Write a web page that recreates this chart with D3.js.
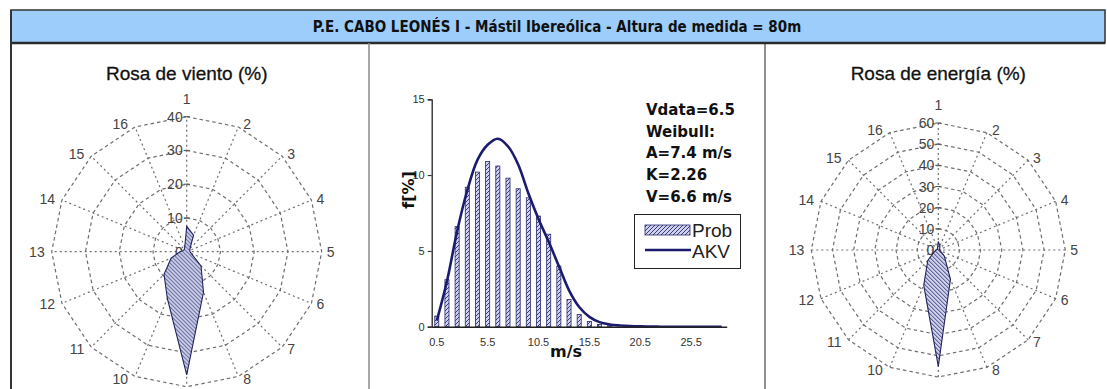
<!DOCTYPE html>
<html><head><meta charset="utf-8">
<script src="https://cdn.jsdelivr.net/npm/d3@7"></script>
<style>
html,body{margin:0;padding:0;background:#fff;}
svg{display:block;}
</style></head><body>
<svg id="chart" width="1107" height="389"></svg>
<script>
// ---- data ----
const reportTitle = "P.E. CABO LEONÉS I - Mástil Ibereólica - Altura de medida = 80m";
const sectorLabels = ["1","2","3","4","5","6","7","8","9","10","11","12","13","14","15","16"];
const windRosePct   = [7.5, 5.3, 1.4, 1.0, 1.0, 1.5, 6.0, 13.0, 36.5, 15.0, 9.5, 5.0, 2.0, 1.0, 1.0, 1.5];
const windRoseTicks = [0, 10, 20, 30, 40];
const energyRosePct   = [4.0, 2.0, 1.0, 0.5, 0.5, 1.0, 4.0, 15.0, 55.0, 18.0, 7.0, 2.0, 1.0, 0.5, 0.5, 1.0];
const energyRoseTicks = [0, 10, 20, 30, 40, 50, 60];
const speedBins = ["0.5","1.5","2.5","3.5","4.5","5.5","6.5","7.5","8.5","9.5",
                   "10.5","11.5","12.5","13.5","14.5","15.5","16.5","17.5","18.5","19.5",
                   "20.5","21.5","22.5","23.5","24.5","25.5","26.5","27.5","28.5"];
const speedTickLabels = ["0.5","5.5","10.5","15.5","20.5","25.5"];
const probPct = [0.7, 3.1, 6.6, 9.2, 10.2, 10.9, 10.6, 9.8, 9.1, 8.5,
                 7.3, 6.1, 4.0, 1.8, 0.8, 0.35, 0.15, 0.1, 0, 0,
                 0, 0, 0, 0, 0, 0, 0, 0, 0];
const akvPct = [0.4, 3.0, 6.3, 9.0, 11.0, 12.0, 12.4, 11.9, 10.7, 8.8,
                7.1, 5.6, 4.0, 2.4, 1.3, 0.65, 0.3, 0.15, 0.08, 0.04,
                0.02, 0.01, 0, 0, 0, 0, 0, 0, 0];
const freqTicks = [0, 5, 10, 15];
const weibullNotes = ["Vdata=6.5", "Weibull:", "A=7.4 m/s", "K=2.26", "V=6.6 m/s"];
const legendItems = ["Prob", "AKV"];

// ---- drawing ----
const W = 1107, H = 389;
const svg = d3.select("#chart");
const ARIAL = "'Liberation Sans', Arial, sans-serif";
const WIDE = "'DejaVu Sans', Verdana, sans-serif";

const defs = svg.append("defs");
function hatch(id, forward, fill) {
  const p = defs.append("pattern").attr("id", id)
    .attr("patternUnits", "userSpaceOnUse").attr("width", 4).attr("height", 4);
  p.append("rect").attr("width", 4).attr("height", 4).attr("fill", fill);
  const d = forward ? "M-1,1 L1,-1 M0,4 L4,0 M3,5 L5,3" : "M-1,3 L1,5 M0,0 L4,4 M3,-1 L5,1";
  p.append("path").attr("d", d).attr("stroke", "#2a2a6a").attr("stroke-width", 0.9);
}
hatch("hatchRose", false, "#cdd0ea");
hatch("hatchBar", true, "#cfd2ee");

// frame + header band
svg.append("rect").attr("x", 11).attr("y", 10).attr("width", 1094).attr("height", 33)
  .attr("fill", "#9ccdfb").attr("stroke", "#333").attr("stroke-width", 1.5);
svg.append("line").attr("x1", 11).attr("x2", 1105).attr("y1", 43).attr("y2", 43)
  .attr("stroke", "#2b2b2b").attr("stroke-width", 2.5);
svg.append("text").attr("x", 557).attr("y", 27).attr("text-anchor", "middle")
  .attr("dominant-baseline", "central")
  .attr("font-family", "'DejaVu Sans Condensed', 'DejaVu Sans', sans-serif")
  .attr("font-stretch", "condensed").attr("font-weight", "bold").attr("font-size", 15)
  .attr("fill", "#111").text(reportTitle);
svg.append("line").attr("x1", 11).attr("x2", 11).attr("y1", 10).attr("y2", H)
  .attr("stroke", "#333").attr("stroke-width", 2);
svg.append("line").attr("x1", 369).attr("x2", 369).attr("y1", 43).attr("y2", H)
  .attr("stroke", "#8a8a8a").attr("stroke-width", 1.5);
svg.append("line").attr("x1", 765).attr("x2", 765).attr("y1", 43).attr("y2", H)
  .attr("stroke", "#222").attr("stroke-width", 1);

// ---- radar roses ----
function drawRose(cx, cy, R, ticks, values, title) {
  const g = svg.append("g").attr("transform", `translate(${cx},${cy})`);
  const n = sectorLabels.length;
  const step = 2 * Math.PI / n;
  const r = d3.scaleLinear().domain([0, d3.max(ticks)]).range([0, R]);
  const ring = d3.lineRadial().angle((d, i) => i * step).radius(d => r(d)).curve(d3.curveLinearClosed);

  // concentric polygon grid
  g.selectAll(".ring").data(ticks.filter(t => t > 0)).join("path")
    .attr("d", t => ring(sectorLabels.map(() => t)))
    .attr("fill", "none").attr("stroke", "#6e6e6e").attr("stroke-width", 1.2)
    .attr("stroke-dasharray", "3.5,3");
  // spokes
  g.selectAll(".spoke").data(sectorLabels).join("line")
    .attr("x1", 0).attr("y1", 0)
    .attr("x2", (d, i) => R * Math.sin(i * step))
    .attr("y2", (d, i) => -R * Math.cos(i * step))
    .attr("stroke", "#6e6e6e").attr("stroke-width", 1.2).attr("stroke-dasharray", "2,3");
  // value axis ticks and labels on the north spoke
  g.selectAll(".tk").data(ticks).join("line")
    .attr("x1", -3).attr("x2", 3).attr("y1", t => -r(t)).attr("y2", t => -r(t))
    .attr("stroke", "#555").attr("stroke-width", 1);
  g.selectAll(".tl").data(ticks).join("text")
    .attr("x", -4).attr("y", t => -r(t)).attr("text-anchor", "end")
    .attr("dominant-baseline", "central").attr("font-family", ARIAL).attr("font-size", 14)
    .attr("fill", "#444").text(t => t);
  // sector labels sit beside the outer vertex of each spoke; the south one falls below the panel
  const placed = sectorLabels.map((d, i) => {
    const s = Math.sin(i * step), c = Math.cos(i * step);
    const vx = R * s, vy = -R * c;
    if (s > 0.1) return { d, anchor: "start", x: vx + 5, y: vy - 3 * c };
    if (s < -0.1) return { d, anchor: "end", x: vx - 7, y: vy - 3 * c };
    return { d, anchor: "middle", x: vx, y: c > 0 ? vy - 18 : vy + 16 };
  }).filter(p => cy + p.y + 7 <= H);
  g.selectAll(".sl").data(placed).join("text")
    .attr("x", p => p.x).attr("y", p => p.y).attr("text-anchor", p => p.anchor)
    .attr("dominant-baseline", "central")
    .attr("font-family", ARIAL).attr("font-size", 14).attr("fill", "#444").text(p => p.d);
  // data polygon
  g.append("path").attr("d", ring(values))
    .attr("fill", "url(#hatchRose)").attr("stroke", "#23235e").attr("stroke-width", 1.1);
  // title
  svg.append("text").attr("x", cx).attr("y", 80).attr("text-anchor", "middle")
    .attr("font-family", ARIAL).attr("font-size", 19).attr("fill", "#111")
    .attr("stroke", "#111").attr("stroke-width", 0.3).text(title);
}
drawRose(186.7, 251.7, 135, windRoseTicks, windRosePct, "Rosa de viento (%)");
drawRose(938.3, 250, 127, energyRoseTicks, energyRosePct, "Rosa de energía (%)");

// ---- frequency histogram ----
const x = d3.scaleBand().domain(speedBins).range([431.7, 726.7]).paddingInner(0.6).paddingOuter(0.3);
const y = d3.scaleLinear().domain([0, 15]).range([326.7, 99.3]);
const cxOf = b => x(b) + x.bandwidth() / 2;
const hg = svg.append("g");

hg.selectAll(".bar").data(probPct).join("rect")
  .attr("x", (d, i) => x(speedBins[i])).attr("width", x.bandwidth())
  .attr("y", d => y(d)).attr("height", d => y(0) - y(d))
  .attr("fill", "url(#hatchBar)").attr("stroke", "#2a2a6a").attr("stroke-width", 0.8);

const akvLine = d3.line().x((d, i) => cxOf(speedBins[i])).y(d => y(d)).curve(d3.curveCatmullRom.alpha(0.5));
hg.append("path").attr("d", akvLine(akvPct)).attr("fill", "none")
  .attr("stroke", "#1c1c6e").attr("stroke-width", 2.6);

const yAxis = hg.append("g").attr("transform", "translate(431.7,0)")
  .call(d3.axisLeft(y).tickValues(freqTicks).tickSize(4).tickPadding(3));
yAxis.select(".domain").attr("stroke", "#222").attr("stroke-width", 1.3);
yAxis.selectAll("line").attr("stroke", "#222");
yAxis.selectAll("text").attr("font-family", ARIAL).attr("font-size", 11).attr("fill", "#333");

const xAxis = hg.append("g").attr("transform", "translate(0,326.7)")
  .call(d3.axisBottom(x).tickValues(speedTickLabels).tickSize(0).tickPadding(12).tickSizeOuter(0));
xAxis.select(".domain").attr("stroke", "#222").attr("stroke-width", 1.5);
xAxis.selectAll("text").attr("font-family", ARIAL).attr("font-size", 11).attr("fill", "#333");

hg.append("text").attr("x", 566).attr("y", 357).attr("text-anchor", "middle")
  .attr("font-family", WIDE).attr("font-weight", "bold").attr("font-size", 16).attr("fill", "#111")
  .text("m/s");
hg.append("text").attr("transform", "translate(414,190) rotate(-90)").attr("text-anchor", "middle")
  .attr("font-family", WIDE).attr("font-weight", "bold").attr("font-size", 16).attr("fill", "#111")
  .text("f[%]");

// Weibull summary
hg.selectAll(".note").data(weibullNotes).join("text")
  .attr("x", 646).attr("y", (d, i) => 110 + i * 21.7)
  .attr("dominant-baseline", "central")
  .attr("font-family", WIDE).attr("font-weight", "bold").attr("font-size", 15).attr("fill", "#111")
  .text(d => d);

// legend
const lg = hg.append("g");
lg.append("rect").attr("x", 634.5).attr("y", 214.5).attr("width", 106).attr("height", 54)
  .attr("fill", "#fff").attr("stroke", "#222").attr("stroke-width", 1);
lg.append("rect").attr("x", 645).attr("y", 225).attr("width", 45).attr("height", 10)
  .attr("fill", "url(#hatchBar)").attr("stroke", "#2a2a6a").attr("stroke-width", 0.8);
lg.append("line").attr("x1", 645).attr("x2", 691).attr("y1", 250).attr("y2", 250)
  .attr("stroke", "#1c1c6e").attr("stroke-width", 2.6);
lg.selectAll(".lt").data(legendItems).join("text")
  .attr("x", 692).attr("y", (d, i) => 230 + i * 21)
  .attr("dominant-baseline", "central")
  .attr("font-family", ARIAL).attr("font-size", 19).attr("fill", "#222").text(d => d);
</script>
</body></html>
